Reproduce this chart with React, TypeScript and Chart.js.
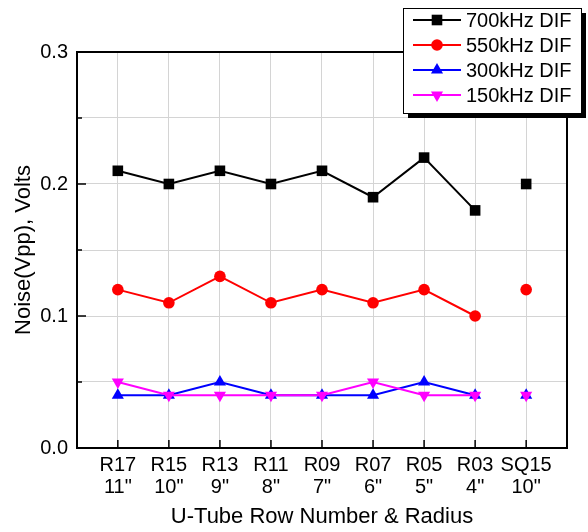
import React, { useEffect, useRef } from "react";
import { Chart, registerables } from "chart.js";

Chart.register(...registerables);

const categories: string[][] = [
  ["R17", "11\""],
  ["R15", "10\""],
  ["R13", "9\""],
  ["R11", "8\""],
  ["R09", "7\""],
  ["R07", "6\""],
  ["R05", "5\""],
  ["R03", "4\""],
  ["SQ15", "10\""],
];
const seriesNames = ["700kHz DIF", "550kHz DIF", "300kHz DIF", "150kHz DIF"];
const s700 = [0.21, 0.2, 0.21, 0.2, 0.21, 0.19, 0.22, 0.18, 0.2];
const s550 = [0.12, 0.11, 0.13, 0.11, 0.12, 0.11, 0.12, 0.1, 0.12];
const s300 = [0.04, 0.04, 0.05, 0.04, 0.04, 0.04, 0.05, 0.04, 0.04];
const s150 = [0.05, 0.04, 0.04, 0.04, 0.04, 0.05, 0.04, 0.04, 0.04];
const yTicks = [0, 0.05, 0.1, 0.15, 0.2, 0.25, 0.3];
// the last category (SQ15) is not joined to the previous ones
const breakIndex = 8;

const FONT = "'Liberation Sans', Arial, sans-serif";
const colors = ["#000000", "#ff0000", "#0000ff", "#ff00ff"];
const styles = ["rect", "circle", "triangle", "triangle"];
const rotations = [0, 0, 0, 180];
const radii = [7.5, 5.8, 7, 7];

function drawMarker(ctx: CanvasRenderingContext2D, idx: number, x: number, y: number) {
  ctx.save();
  ctx.fillStyle = colors[idx];
  ctx.beginPath();
  const r = radii[idx];
  if (idx === 0) {
    const h = (r * Math.SQRT2) / 2;
    ctx.rect(x - h, y - h, 2 * h, 2 * h);
  } else if (idx === 1) {
    ctx.arc(x, y, r, 0, Math.PI * 2);
  } else {
    const dir = idx === 2 ? -1 : 1;
    ctx.moveTo(x, y + dir * r);
    ctx.lineTo(x + (r * Math.sqrt(3)) / 2, y - (dir * r) / 2);
    ctx.lineTo(x - (r * Math.sqrt(3)) / 2, y - (dir * r) / 2);
    ctx.closePath();
  }
  ctx.fill();
  ctx.restore();
}

const framePlugin = {
  id: "frameAndLegend",
  afterDatasetsDraw(chart: any) {
    const { ctx, chartArea } = chart;
    const { left, right, top, bottom } = chartArea;
    const ys = chart.scales.y;
    const xs = chart.scales.x;
    ctx.save();
    ctx.strokeStyle = "#000";
    ctx.lineWidth = 2;
    ctx.strokeRect(left, top, right - left, bottom - top);
    ctx.lineWidth = 1.5;
    ctx.beginPath();
    yTicks.forEach((v, i) => {
      const py = ys.getPixelForValue(v);
      const len = i % 2 === 0 ? 9 : 5;
      ctx.moveTo(left, py);
      ctx.lineTo(left + len, py);
    });
    categories.forEach((_, i) => {
      const px = xs.getPixelForValue(i);
      ctx.moveTo(px, bottom);
      ctx.lineTo(px, bottom - 8);
    });
    ctx.stroke();
    ctx.restore();
  },
  afterDraw(chart: any) {
    const ctx: CanvasRenderingContext2D = chart.ctx;
    const bx = 403, by = 8, bw = 178, bh = 105;
    ctx.save();
    ctx.fillStyle = "#000";
    ctx.fillRect(bx + 5, by + 5, bw, bh);
    ctx.fillStyle = "#fff";
    ctx.fillRect(bx, by, bw, bh);
    ctx.strokeStyle = "#000";
    ctx.lineWidth = 1;
    ctx.strokeRect(bx + 0.5, by + 0.5, bw, bh);
    ctx.font = `20px ${FONT}`;
    ctx.textBaseline = "middle";
    ctx.textAlign = "left";
    seriesNames.forEach((name, i) => {
      const y = 20 + i * 25;
      ctx.strokeStyle = colors[i];
      ctx.lineWidth = 2;
      ctx.beginPath();
      ctx.moveTo(413, y);
      ctx.lineTo(461, y);
      ctx.stroke();
      drawMarker(ctx, i, 437, y);
      ctx.fillStyle = "#000";
      ctx.fillText(name, 466, y + 1);
    });
    ctx.restore();
  },
};

export default function App() {
  const ref = useRef<HTMLCanvasElement | null>(null);
  useEffect(() => {
    if (!ref.current) return;
    const all = [s700, s550, s300, s150];
    const datasets = all.map((vals, i) => ({
      label: seriesNames[i],
      data: vals.map((v, j) => ({ x: j, y: v })),
      borderColor: colors[i],
      backgroundColor: colors[i],
      borderWidth: 2,
      pointStyle: styles[i] as any,
      pointRotation: rotations[i],
      pointRadius: radii[i],
      pointHoverRadius: radii[i],
      pointBorderWidth: 0,
      order: 4 - i,
      tension: 0,
      segment: {
        borderColor: (c: any) => (c.p1DataIndex === breakIndex ? "rgba(0,0,0,0)" : colors[i]),
      },
    }));
    const chart = new Chart(ref.current, {
      type: "line",
      data: { datasets },
      plugins: [framePlugin],
      options: {
        animation: false,
        responsive: true,
        maintainAspectRatio: false,
        layout: { padding: { top: 52, right: 21, left: 0, bottom: 0 } },
        plugins: { legend: { display: false }, tooltip: { enabled: false } },
        scales: {
          x: {
            type: "linear",
            min: -0.8,
            max: 8.8,
            afterBuildTicks: (s: any) => {
              s.ticks = categories.map((_, i) => ({ value: i }));
            },
            afterFit: (s: any) => {
              s.height = 84;
            },
            ticks: {
              autoSkip: false,
              maxRotation: 0,
              padding: 6,
              color: "#000",
              font: { family: FONT, size: 20, lineHeight: 1.1 },
              callback: (v: any) => categories[Math.round(v)] ?? "",
            },
            grid: { color: "#d4d4d4", lineWidth: 1, drawTicks: false },
            border: { display: false },
            title: {
              display: true,
              text: "U-Tube Row Number & Radius",
              color: "#000",
              font: { family: FONT, size: 22, lineHeight: 1.2 },
              padding: { top: 0, bottom: 2 },
            },
          },
          y: {
            min: 0,
            max: 0.3,
            afterBuildTicks: (s: any) => {
              s.ticks = yTicks.map((v) => ({ value: v }));
            },
            afterFit: (s: any) => {
              s.width = 77;
            },
            ticks: {
              padding: 9,
              color: "#000",
              font: { family: FONT, size: 20 },
              callback: (v: any) => {
                const r = Math.round(Number(v) * 100);
                return r % 10 === 0 ? (r / 100).toFixed(1) : "";
              },
            },
            grid: { color: "#d4d4d4", lineWidth: 1, drawTicks: false },
            border: { display: false },
            title: {
              display: true,
              text: "Noise(Vpp), Volts",
              color: "#000",
              font: { family: FONT, size: 22, lineHeight: 1.2 },
              padding: { top: 11, bottom: 0 },
            },
          },
        },
      },
    });
    return () => chart.destroy();
  }, []);
  return (
    <div style={{ position: "fixed", left: 0, top: 0, width: 588, height: 532, background: "#fff" }}>
      <canvas ref={ref} />
    </div>
  );
}
